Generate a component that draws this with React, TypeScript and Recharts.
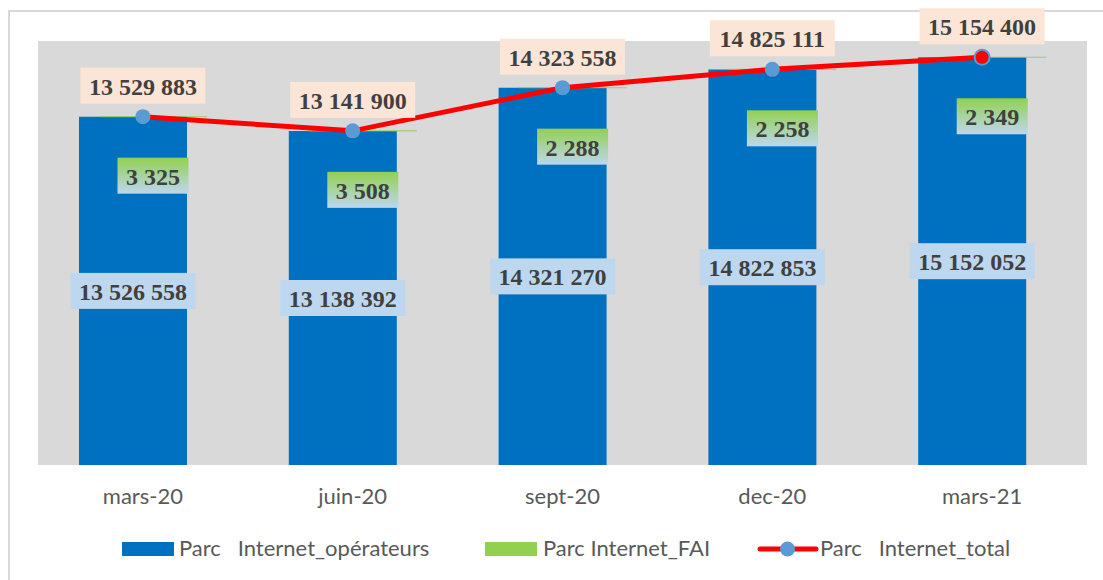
import React from 'react';
import {
  ComposedChart,
  Bar,
  Line,
  XAxis,
  YAxis,
  CartesianGrid,
  Legend,
  LabelList,
} from 'recharts';

const months = ['mars-20', 'juin-20', 'sept-20', 'dec-20', 'mars-21'];
const operateurs = [13526558, 13138392, 14321270, 14822853, 15152052];
const fai = [3325, 3508, 2288, 2258, 2349];
const totals = [13529883, 13141900, 14323558, 14825111, 15154400];

const data = months.map((month, i) => ({
  month,
  ops: operateurs[i],
  fai: fai[i],
  faiRange: [operateurs[i], operateurs[i] + fai[i]],
  total: totals[i],
}));

const fmt = (v: number) => String(v).replace(/\B(?=(\d{3})+(?!\d))/g, ' ');

// rough width of the bold serif label text at 24px
const boxWidth = (s: string) => {
  const digits = s.replace(/\s/g, '').length;
  const spaces = s.length - digits;
  return digits * 12 + spaces * 6 + 17;
};

const LABEL_FONT = '"Liberation Serif", "Times New Roman", serif';

const Tag = ({ cx, cy, text, fill }: { cx: number; cy: number; text: string; fill: string }) => {
  const w = boxWidth(text);
  return (
    <g>
      <rect x={cx - w / 2} y={cy - 18} width={w} height={36} fill={fill} />
      <text
        x={cx}
        y={cy + 9}
        textAnchor="middle"
        fontFamily={LABEL_FONT}
        fontWeight="bold"
        fontSize={24}
        fill="#404040"
      >
        {text}
      </text>
    </g>
  );
};

const opsLabel = (props: any) => {
  const { x, y, width, height, value } = props;
  return <Tag cx={x + width / 2} cy={y + height / 2} text={fmt(value)} fill="#BDD7EE" />;
};

const totalLabel = (props: any) => {
  const { x, y, value } = props;
  return <Tag cx={x} cy={y - 31} text={fmt(value)} fill="#FBE5D6" />;
};

const faiLabel = (props: any) => {
  const { x, y, width, value, index } = props;
  const text = fmt(value);
  const w = boxWidth(text);
  const cx = x + width / 2;
  const cy = y + 59;
  const id = `faiGrad${index}`;
  return (
    <g>
      <defs>
        <linearGradient id={id} x1="0" y1="0" x2="0" y2="1">
          <stop offset="0%" stopColor="#92D050" />
          <stop offset="100%" stopColor="#BDD7EE" />
        </linearGradient>
      </defs>
      <rect x={cx - w / 2} y={cy - 18} width={w} height={36} fill={`url(#${id})`} />
      <text
        x={cx}
        y={cy + 9}
        textAnchor="middle"
        fontFamily={LABEL_FONT}
        fontWeight="bold"
        fontSize={24}
        fill="#404040"
      >
        {text}
      </text>
    </g>
  );
};

const renderDot = (props: any) => {
  const { cx, cy, index } = props;
  const last = index === data.length - 1;
  return (
    <circle
      key={`dot-${index}`}
      cx={cx}
      cy={cy}
      r={7.5}
      fill={last ? '#FF0000' : '#5B9BD5'}
      stroke={last ? '#5B9BD5' : 'none'}
      strokeWidth={2}
    />
  );
};

const LEGEND_FONT = 'Lato, "Open Sans", sans-serif';

const renderLegend = () => (
  <svg width={1103} height={40} style={{ display: 'block' }}>
    <rect x={122} y={14} width={52} height={14} fill="#0070C0" />
    <text x={179} y={28} fontFamily={LEGEND_FONT} fontSize={22} fill="#595959" style={{ whiteSpace: 'pre' }}>
      {'Parc   Internet_opérateurs'}
    </text>
    <rect x={485} y={14} width={52} height={14} fill="#92D050" />
    <text x={543} y={28} fontFamily={LEGEND_FONT} fontSize={22} fill="#595959">
      Parc Internet_FAI
    </text>
    <line x1={760} y1={21} x2={816} y2={21} stroke="#FF0000" strokeWidth={5} strokeLinecap="round" />
    <circle cx={787.5} cy={21} r={7.5} fill="#5B9BD5" />
    <text x={820} y={28} fontFamily={LEGEND_FONT} fontSize={22} fill="#595959" style={{ whiteSpace: 'pre' }}>
      {'Parc   Internet_total'}
    </text>
  </svg>
);

export default function App() {
  return (
    <div style={{ position: 'fixed', top: 0, left: 0, width: 1103, height: 580, background: '#FFFFFF' }}>
      <div
        style={{
          position: 'absolute',
          left: 8,
          top: 10,
          width: 1110,
          height: 600,
          border: '2px solid #D9D9D9',
          boxSizing: 'border-box',
        }}
      />
      <div style={{ position: 'absolute', left: 0, top: 0 }}>
        <ComposedChart
          width={1103}
          height={580}
          data={data}
          barGap={-88}
          margin={{ top: 41, right: 16, left: 38, bottom: 12 }}
        >
          <CartesianGrid fill="#D9D9D9" fillOpacity={1} horizontal={false} vertical={false} />
          <XAxis
            dataKey="month"
            height={63}
            interval={0}
            tickLine={false}
            axisLine={false}
            tickSize={0}
            tickMargin={23}
            tick={{ fill: '#595959', fontSize: 22, fontFamily: LEGEND_FONT }}
          />
          <YAxis hide domain={[4000000, 15600000]} allowDataOverflow />
          <Legend
            verticalAlign="bottom"
            content={renderLegend}
            wrapperStyle={{ left: 0, bottom: 12, width: 1103, height: 40 }}
          />
          <Bar dataKey="ops" name="Parc   Internet_opérateurs" fill="#0070C0" barSize={108} isAnimationActive={false}>
            <LabelList dataKey="ops" content={opsLabel} />
          </Bar>
          <Bar
            dataKey="faiRange"
            name="Parc Internet_FAI"
            fill="#92D050"
            stroke="#92D050"
            strokeOpacity={0.5}
            strokeWidth={1}
            barSize={108}
            isAnimationActive={false}
          >
            <LabelList dataKey="fai" content={faiLabel} />
          </Bar>
          <Line
            type="linear"
            dataKey="total"
            name="Parc   Internet_total"
            stroke="#FF0000"
            strokeWidth={5}
            dot={renderDot}
            activeDot={false}
            isAnimationActive={false}
          >
            <LabelList dataKey="total" content={totalLabel} />
          </Line>
        </ComposedChart>
      </div>
    </div>
  );
}
